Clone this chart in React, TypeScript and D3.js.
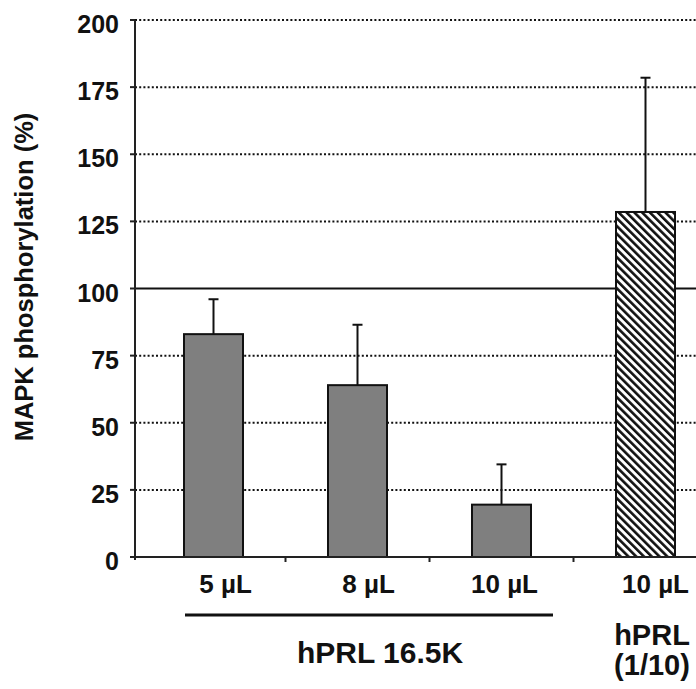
import React from "react";
import * as d3 from "d3";

const categories = ["5 µL", "8 µL", "10 µL", "10 µL"];
const values = [83, 64, 19.5, 128.5];
const errors = [13, 22.5, 15, 50];
const hatched = [false, false, false, true];
const yTicks = [0, 25, 50, 75, 100, 125, 150, 175, 200];
const groupLabel = "hPRL 16.5K";
const sideLabel = ["hPRL", "(1/10)"];
const yTitle = "MAPK phosphorylation (%)";

const W = 696;
const H = 689;
const labelNudge = [12, 11, 3, 10];

export default function App() {
  const x = d3.scaleBand<number>().domain(d3.range(categories.length)).range([141.5, 717.5]).padding(0);
  const y = d3.scaleLinear().domain([0, 200]).range([557, 20]);
  const bw = 59;
  const axisX = 135;
  const font = "Liberation Sans, Arial, sans-serif";

  return (
    <svg width={W} height={H} style={{ position: "absolute", left: 0, top: 0, background: "#fff" }} fontFamily={font}>
      <defs>
        <pattern id="hatch" patternUnits="userSpaceOnUse" width="5.5" height="5.5" patternTransform="rotate(-45)">
          <rect width="5.5" height="5.5" fill="#fff" />
          <rect x="0" y="0" width="2.6" height="5.5" fill="#111" />
        </pattern>
      </defs>
      {yTicks.filter((t) => t !== 0).map((t) => (
        <line key={"g" + t} x1={axisX} x2={W} y1={y(t)} y2={y(t)}
          stroke="#111" strokeWidth={t === 100 ? 2 : 2}
          strokeDasharray={t === 100 ? undefined : "2 2.2"} />
      ))}
      {values.map((v, i) => {
        const cx = x(i)! + x.bandwidth() / 2;
        return (
          <g key={"b" + i}>
            <line x1={cx} x2={cx} y1={y(v)} y2={y(v + errors[i])} stroke="#111" strokeWidth={2} />
            <line x1={cx - 5} x2={cx + 5} y1={y(v + errors[i])} y2={y(v + errors[i])} stroke="#111" strokeWidth={2} />
            <rect x={cx - bw / 2} y={y(v)} width={bw} height={y(0) - y(v)}
              fill={hatched[i] ? "url(#hatch)" : "#7f7f7f"} stroke="#111" strokeWidth={2} />
          </g>
        );
      })}
      <line x1={axisX} x2={axisX} y1={y(200)} y2={y(0) + 3} stroke="#222" strokeWidth={2} />
      {yTicks.map((t) => (
        <g key={"t" + t}>
          <line x1={axisX - 5} x2={axisX} y1={y(t)} y2={y(t)} stroke="#222" strokeWidth={2} />
          <text x={119} y={y(t) + 13} textAnchor="end" fontSize={25} fontWeight="bold" fill="#111">{t}</text>
        </g>
      ))}
      <line x1={axisX - 4} x2={W} y1={y(0)} y2={y(0)} stroke="#222" strokeWidth={2} />
      {d3.range(1, categories.length).map((i) => (
        <line key={"xt" + i} x1={x(i)!} x2={x(i)!} y1={y(0)} y2={y(0) + 5} stroke="#222" strokeWidth={2} />
      ))}
      {categories.map((c, i) => (
        <text key={"c" + i} x={x(i)! + x.bandwidth() / 2 + labelNudge[i]} y={593} textAnchor="middle"
          fontSize={26} fontWeight="bold" fill="#111">{c}</text>
      ))}
      <line x1={185} x2={553} y1={615} y2={615} stroke="#111" strokeWidth={3} />
      <text x={380} y={663} textAnchor="middle" fontSize={30} fontWeight="bold" fill="#111">{groupLabel}</text>
      {sideLabel.map((s, k) => (
        <text key={"s" + k} x={652} y={645 + k * 30} textAnchor="middle" fontSize={29} fontWeight="bold" fill="#111">{s}</text>
      ))}
      <text transform={`translate(33,277) rotate(-90)`} textAnchor="middle" fontSize={25.5} fontWeight="bold" fill="#111">{yTitle}</text>
    </svg>
  );
}
